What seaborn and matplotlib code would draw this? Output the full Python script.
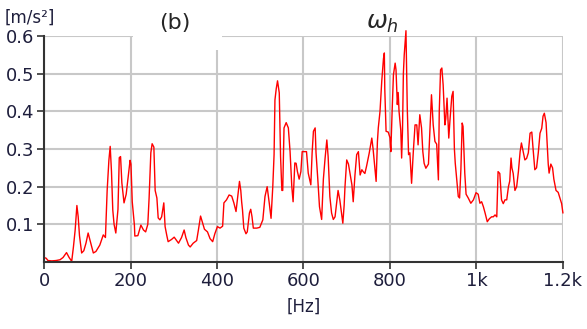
import matplotlib
matplotlib.use("Agg")
import matplotlib.pyplot as plt
from matplotlib.patches import Rectangle
import numpy as np
import pandas as pd
import seaborn as sns

# spectrum: frequency [Hz] and amplitude [m/s^2]
FREQ = [
    0, 5, 9, 18, 28, 37, 44, 52, 58, 64, 68, 72, 76, 79, 82, 87, 92, 97, 102, 108,
    114, 120, 129, 137, 142, 146, 150, 153, 156, 159, 162, 166, 171, 174, 177, 180, 185, 190, 194, 199,
    201, 204, 209, 210, 217, 224, 230, 235, 240, 243, 247, 250, 254, 257, 261, 264, 268, 272, 277, 280,
    284, 287, 295, 301, 311, 318, 324, 328, 334, 338, 345, 353, 357, 362, 365, 371, 378, 384, 390, 395,
    401, 407, 413, 416, 422, 428, 434, 439, 444, 449, 452, 455, 457, 459, 462, 467, 470, 475, 478, 481,
    484, 492, 499, 506, 511, 516, 521, 525, 529, 532, 534, 537, 540, 544, 547, 550, 552, 555, 560, 565,
    569, 573, 576, 580, 583, 586, 590, 594, 597, 603, 607, 611, 617, 620, 623, 627, 629, 633, 637, 642,
    646, 650, 654, 657, 661, 665, 669, 673, 677, 680, 684, 688, 691, 694, 696, 700, 704, 708, 712, 715,
    719, 723, 727, 731, 735, 738, 742, 746, 752, 758, 761, 765, 768, 771, 773, 777, 781, 785, 787, 788,
    791, 796, 800, 802, 805, 808, 812, 814, 817, 819, 821, 825, 827, 829, 831, 833, 837, 840, 843, 846,
    850, 854, 858, 862, 865, 869, 873, 876, 879, 883, 889, 892, 896, 900, 904, 908, 912, 914, 917, 920,
    923, 927, 929, 932, 936, 939, 943, 946, 949, 951, 956, 958, 961, 964, 967, 969, 973, 976, 981, 987,
    993, 999, 1004, 1008, 1012, 1016, 1020, 1025, 1030, 1035, 1039, 1043, 1047, 1050, 1054, 1058, 1062, 1066, 1070, 1074,
    1077, 1080, 1082, 1085, 1089, 1093, 1097, 1101, 1104, 1108, 1112, 1116, 1120, 1124, 1128, 1131, 1135, 1139, 1143, 1147,
    1151, 1154, 1157, 1161, 1164, 1166, 1168, 1172, 1176, 1179, 1184, 1189, 1193, 1197, 1200,
]
ACCEL = [
    0.012, 0.010, 0.004, 0.003, 0.004, 0.006, 0.012, 0.025, 0.012, 0.002, 0.040, 0.085, 0.150, 0.120, 0.070, 0.024, 0.030, 0.050, 0.077, 0.050,
    0.024, 0.028, 0.045, 0.072, 0.065, 0.190, 0.270, 0.307, 0.240, 0.138, 0.100, 0.077, 0.140, 0.277, 0.280, 0.210, 0.157, 0.180, 0.220, 0.270,
    0.260, 0.160, 0.098, 0.069, 0.070, 0.098, 0.085, 0.080, 0.100, 0.170, 0.290, 0.314, 0.305, 0.190, 0.170, 0.117, 0.112, 0.120, 0.157, 0.094,
    0.070, 0.054, 0.060, 0.066, 0.050, 0.065, 0.085, 0.065, 0.045, 0.040, 0.050, 0.057, 0.085, 0.122, 0.110, 0.087, 0.080, 0.062, 0.054, 0.075,
    0.094, 0.090, 0.095, 0.157, 0.165, 0.178, 0.175, 0.157, 0.134, 0.185, 0.214, 0.190, 0.160, 0.138, 0.090, 0.075, 0.080, 0.130, 0.140, 0.120,
    0.090, 0.090, 0.092, 0.112, 0.174, 0.200, 0.155, 0.116, 0.200, 0.285, 0.430, 0.460, 0.481, 0.449, 0.280, 0.190, 0.190, 0.356, 0.370, 0.356,
    0.293, 0.200, 0.160, 0.263, 0.262, 0.240, 0.220, 0.240, 0.293, 0.293, 0.293, 0.236, 0.205, 0.290, 0.347, 0.356, 0.290, 0.222, 0.147, 0.113,
    0.220, 0.276, 0.324, 0.280, 0.174, 0.130, 0.113, 0.120, 0.160, 0.190, 0.165, 0.130, 0.103, 0.150, 0.200, 0.271, 0.260, 0.232, 0.205, 0.160,
    0.230, 0.285, 0.293, 0.231, 0.245, 0.240, 0.235, 0.255, 0.289, 0.329, 0.300, 0.249, 0.214, 0.320, 0.356, 0.400, 0.480, 0.540, 0.555, 0.460,
    0.347, 0.345, 0.330, 0.293, 0.400, 0.497, 0.528, 0.510, 0.418, 0.450, 0.400, 0.350, 0.276, 0.350, 0.500, 0.550, 0.614, 0.410, 0.285, 0.290,
    0.209, 0.293, 0.364, 0.364, 0.311, 0.391, 0.356, 0.293, 0.262, 0.249, 0.260, 0.338, 0.444, 0.364, 0.320, 0.313, 0.218, 0.400, 0.510, 0.515,
    0.470, 0.364, 0.380, 0.435, 0.329, 0.380, 0.440, 0.453, 0.300, 0.262, 0.200, 0.174, 0.170, 0.245, 0.369, 0.360, 0.236, 0.180, 0.170, 0.156,
    0.165, 0.184, 0.180, 0.156, 0.160, 0.147, 0.130, 0.107, 0.115, 0.120, 0.120, 0.125, 0.120, 0.240, 0.235, 0.165, 0.155, 0.165, 0.165, 0.200,
    0.215, 0.276, 0.250, 0.235, 0.190, 0.200, 0.240, 0.293, 0.316, 0.293, 0.271, 0.275, 0.290, 0.342, 0.345, 0.300, 0.245, 0.250, 0.290, 0.342,
    0.355, 0.387, 0.395, 0.370, 0.307, 0.260, 0.236, 0.260, 0.250, 0.220, 0.190, 0.185, 0.170, 0.155, 0.130,
]
X_TICKS = [0, 200, 400, 600, 800, 1000, 1200]
X_LABELS = ["0", "200", "400", "600", "800", "1k", "1.2k"]
Y_TICKS = [0.1, 0.2, 0.3, 0.4, 0.5, 0.6]
Y_LABELS = ["0.1", "0.2", "0.3", "0.4", "0.5", "0.6"]

sns.set_style("whitegrid")
plt.rcParams["font.family"] = ["DejaVu Sans"]

df = pd.DataFrame({"freq": FREQ, "accel": ACCEL})

fig = plt.figure(figsize=(5.87, 3.29), dpi=100)
ax = fig.add_axes([0.075, 0.2036, 0.884, 0.687])

sns.lineplot(data=df, x="freq", y="accel", ax=ax, color="#ff0000",
             linewidth=1.0, clip_on=False, zorder=3)

ax.set_xlim(0, 1200)
ax.set_ylim(0, 0.6)
ax.set_xticks(X_TICKS)
ax.set_xticklabels(X_LABELS)
ax.set_yticks(Y_TICKS)
ax.set_yticklabels(Y_LABELS)
ax.set_xlabel("")
ax.set_ylabel("")

ax.grid(True, color="#c8c8c8", linewidth=1.5)
for side in ["top", "right"]:
    ax.spines[side].set_visible(False)
for side in ["left", "bottom"]:
    ax.spines[side].set_color("#333333")
    ax.spines[side].set_linewidth(1.5)
    ax.spines[side].set_zorder(4)

ax.tick_params(axis="both", colors="#333333", labelcolor="#1e1e3c",
               labelsize=13, length=5, width=1.2, pad=2, left=True, bottom=True)

# white label box behind "(b)" that hides part of the grid
fig.add_artist(Rectangle((0.2266, 0.848), 0.152, 0.152, transform=fig.transFigure,
                         facecolor="white", edgecolor="none", zorder=5))
fig.text(0.298, 0.930, "(b)", fontsize=16, ha="center", va="center", zorder=6)
fig.text(0.651, 0.930, r"$\omega_h$", fontsize=18, ha="center", va="center", zorder=6)
fig.text(0.008, 0.945, "[m/s²]", fontsize=12, color="#1e1e3c", ha="left", va="center")
fig.text(0.518, 0.067, "[Hz]", fontsize=12, color="#1e1e3c", ha="center", va="center")

fig.savefig("out.png", dpi=100)
